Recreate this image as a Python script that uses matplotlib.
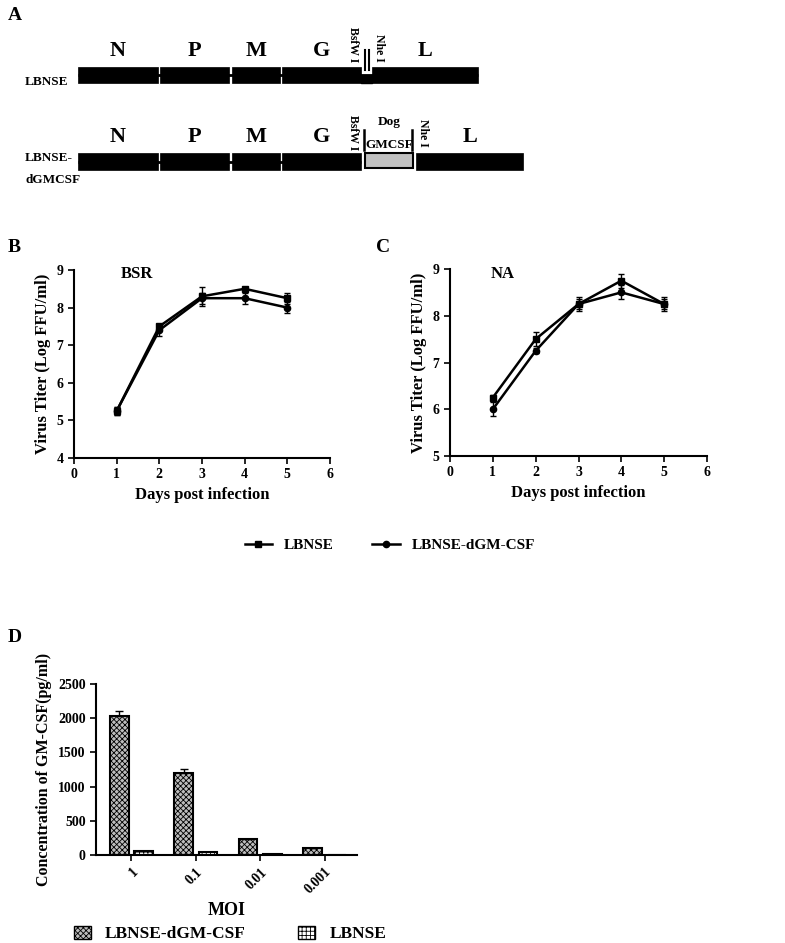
import numpy as np
import matplotlib
matplotlib.use('Agg')
import matplotlib.pyplot as plt
from matplotlib.patches import Rectangle, Patch
from matplotlib.lines import Line2D

plt.rcParams['font.family'] = ['Liberation Serif', 'DejaVu Serif']
plt.rcParams['font.weight'] = 'bold'
plt.rcParams['axes.labelweight'] = 'bold'
plt.rcParams['hatch.linewidth'] = 0.6

W, H = 785, 943

# genome schematic (pixel spans of each gene block)
GENES = ['N', 'P', 'M', 'G', 'L']
ROW1_SPANS = [(78, 158), (160, 229), (232, 280), (282, 361), (372, 478)]
ROW2_SPANS = [(78, 158), (160, 229), (232, 280), (282, 361), (416, 523)]
INSERT_SPAN = (365, 413)

# growth curves
DAYS = [1, 2, 3, 4, 5]
BSR_LBNSE = [5.25, 7.5, 8.3, 8.5, 8.25]
BSR_LBNSE_ERR = [0.1, 0.05, 0.25, 0.05, 0.15]
BSR_DGM = [5.25, 7.4, 8.25, 8.25, 8.0]
BSR_DGM_ERR = [0.1, 0.15, 0.15, 0.15, 0.15]
NA_LBNSE = [6.25, 7.5, 8.25, 8.75, 8.25]
NA_LBNSE_ERR = [0.05, 0.15, 0.15, 0.15, 0.15]
NA_DGM = [6.0, 7.25, 8.25, 8.5, 8.25]
NA_DGM_ERR = [0.15, 0.05, 0.1, 0.15, 0.1]

# GM-CSF concentration
MOI = ['1', '0.1', '0.01', '0.001']
CONC_DGM = [2030, 1200, 230, 100]
CONC_DGM_ERR = [80, 60, 0, 0]
CONC_LBNSE = [60, 50, 10, 0]


def px(l, t, r, b):
    return [l / W, 1 - b / H, (r - l) / W, (b - t) / H]


fig = plt.figure(figsize=(W / 100, H / 100), dpi=100)

# ---- A: schematic ----
axA = fig.add_axes([0, 0, 1, 1])
axA.set_xlim(0, W)
axA.set_ylim(H, 0)
axA.axis('off')


def draw_row(ax, spans, y0, y1, connect_to):
    mid = (y0 + y1) / 2
    ax.plot([spans[0][0], connect_to], [mid, mid], color='k', lw=2, zorder=1,
            solid_capstyle='butt')
    for (a, b), g in zip(spans, GENES):
        ax.add_patch(Rectangle((a, y0), b - a, y1 - y0, fc='k', ec='k', lw=0.5, zorder=2))
        ax.text((a + b) / 2, y0 - 6, g, ha='center', va='bottom', fontsize=16)


draw_row(axA, ROW1_SPANS, 67, 83, ROW1_SPANS[-1][1])
axA.fill_between([361, 372], 75, 83, color='k', zorder=2)
axA.plot([365, 365], [50, 70], color='k', lw=1.5)
axA.plot([369, 369], [50, 70], color='k', lw=1.5)
axA.text(353, 62, 'BsfW I', rotation=-90, ha='center', va='bottom', fontsize=8.5)
axA.text(379, 62, 'Nhe I', rotation=-90, ha='center', va='bottom', fontsize=8.5)
axA.text(25, 82, 'LBNSE', ha='left', va='center', fontsize=9.5)

draw_row(axA, ROW2_SPANS, 153, 170, ROW2_SPANS[3][1])
axA.add_patch(Rectangle((INSERT_SPAN[0], 153), INSERT_SPAN[1] - INSERT_SPAN[0], 15,
                        fc='#c0c0c0', ec='k', lw=1.5, zorder=2))
axA.plot([364, 364], [130, 150], color='k', lw=1.8)
axA.plot([412, 412], [130, 150], color='k', lw=1.8)
axA.text(389, 122, 'Dog', ha='center', va='center', fontsize=9.5)
axA.text(389, 145, 'GMCSF', ha='center', va='center', fontsize=9.5)
axA.text(353, 150, 'BsfW I', rotation=-90, ha='center', va='bottom', fontsize=8.5)
axA.text(423, 147, 'Nhe I', rotation=-90, ha='center', va='bottom', fontsize=8.5)
axA.text(25, 158, 'LBNSE-', ha='left', va='center', fontsize=9.5)
axA.text(25, 180, 'dGMCSF', ha='left', va='center', fontsize=9.5)

for lab, x, y in [('A', 8, 15), ('B', 8, 247), ('C', 376, 247), ('D', 8, 637)]:
    axA.text(x, y, lab, ha='left', va='center', fontsize=14)


def style(ax):
    for s in ['top', 'right']:
        ax.spines[s].set_visible(False)
    for s in ['left', 'bottom']:
        ax.spines[s].set_linewidth(1.5)
    ax.tick_params(width=1.2, length=4, labelsize=10)


def growth(ax, lb, lbe, dg, dge, ylo, title, tx):
    ax.errorbar(DAYS, lb, yerr=lbe, color='k', marker='s', ms=5, lw=1.8, capsize=2.5, elinewidth=1)
    ax.errorbar(DAYS, dg, yerr=dge, color='k', marker='o', ms=4.5, lw=1.8, capsize=2.5, elinewidth=1)
    ax.set_xlim(0, 6)
    ax.set_ylim(ylo, 9)
    ax.set_xticks(range(7))
    ax.set_yticks(range(ylo, 10))
    ax.set_xlabel('Days post infection', fontsize=12)
    ax.set_ylabel('Virus Titer (Log FFU/ml)', fontsize=12)
    ax.text(tx, 8.9, title, fontsize=12, ha='left', va='center')
    style(ax)


axB = fig.add_axes(px(74, 270, 330, 458))
growth(axB, BSR_LBNSE, BSR_LBNSE_ERR, BSR_DGM, BSR_DGM_ERR, 4, 'BSR', 1.1)
axC = fig.add_axes(px(450, 269, 707, 456))
growth(axC, NA_LBNSE, NA_LBNSE_ERR, NA_DGM, NA_DGM_ERR, 5, 'NA', 0.95)

handles = [Line2D([], [], color='k', marker='s', ms=5, lw=1.8),
           Line2D([], [], color='k', marker='o', ms=4.5, lw=1.8)]
fig.legend(handles, ['LBNSE', 'LBNSE-dGM-CSF'], loc='center', ncol=2, frameon=False,
           bbox_to_anchor=(390 / W, 1 - 545 / H), fontsize=11, handlelength=1.8,
           columnspacing=2.5)

# ---- D: bars ----
axD = fig.add_axes(px(96, 684, 357, 855))
x = np.arange(len(MOI))
w = 0.29
axD.bar(x - 0.19, CONC_DGM, w, color='#bdbdbd', edgecolor='k', lw=1.5, hatch='xxxxxx')
axD.bar(x + 0.19, CONC_LBNSE, w, color='white', edgecolor='k', lw=1.5, hatch='++++')
axD.errorbar(x - 0.19, CONC_DGM, yerr=[np.zeros(4), CONC_DGM_ERR], fmt='none', ecolor='k',
             capsize=3, elinewidth=1)
axD.set_xlim(-0.55, 3.5)
axD.set_ylim(0, 2500)
axD.set_yticks(range(0, 2501, 500))
axD.set_xticks(x)
axD.set_xticklabels(MOI, rotation=45, ha='right', rotation_mode='anchor')
axD.set_xlabel('MOI', fontsize=13, labelpad=4)
axD.set_ylabel('Concentration of GM-CSF(pg/ml)', fontsize=11.5)
style(axD)

ph = [Patch(fc='#bdbdbd', ec='k', hatch='xxxxxx'), Patch(fc='white', ec='k', hatch='++++')]
fig.legend(ph, ['LBNSE-dGM-CSF', 'LBNSE'], loc='center', ncol=2, frameon=False,
           bbox_to_anchor=(230 / W, 1 - 934 / H), fontsize=12.5, handlelength=1.0,
           handleheight=0.8, columnspacing=3.0)

fig.savefig('out.png', dpi=100)
